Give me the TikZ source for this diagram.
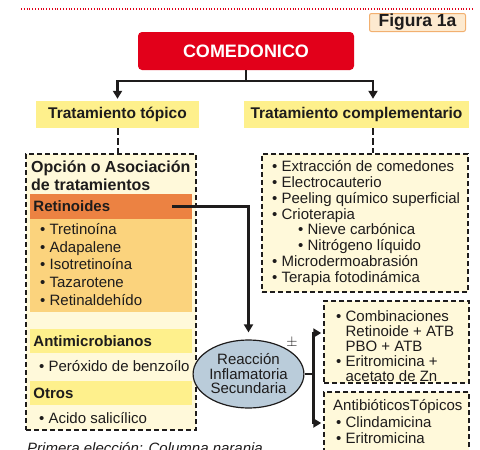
\documentclass[tikz,border=0pt]{standalone}
\usepackage{fontspec}
\setmainfont{Liberation Sans}
\usetikzlibrary{arrows.meta,positioning,shapes.geometric}

\definecolor{titleRed}{RGB}{226,0,26}
\definecolor{headYellow}{RGB}{254,240,140}
\definecolor{creamFill}{RGB}{255,249,218}
\definecolor{retiOrange}{RGB}{236,130,66}
\definecolor{listOrange}{RGB}{251,211,125}
\definecolor{ellipseBlue}{RGB}{186,204,218}
\definecolor{figFill}{RGB}{253,234,208}
\definecolor{figDraw}{RGB}{242,176,112}
\definecolor{inkGray}{RGB}{30,28,28}

\newcommand{\fs}[2]{\fontsize{#1}{#2}\selectfont}

\begin{document}
\begin{tikzpicture}[
  x=1pt, y=-1pt,
  arrow/.style={-{Triangle[width=9pt,length=8pt]}, line width=2.2pt, draw=inkGray},
  dashline/.style={draw=inkGray, line width=2pt, dash pattern=on 7pt off 3pt},
  dashbox/.style={draw=inkGray, line width=1.5pt, dash pattern=on 5pt off 3pt, fill=creamFill, inner sep=0},
  header/.style={fill=headYellow, font=\bfseries\fs{15.5}{17}, text=inkGray, inner sep=0},
  band/.style={minimum width=162pt, text width=155pt, align=left, inner xsep=3.5pt, inner ysep=0, font=\bfseries\fs{15}{17}, text=inkGray},
  listtext/.style={anchor=base west, inner sep=0, align=left, text=inkGray}
]
\useasboundingbox (0,0) rectangle (480,450);

% top rule and figure tag
\draw[titleRed, line width=1.3pt, dash pattern=on 0.8pt off 2pt] (21,9) -- (473,9);
\node[fill=figFill, draw=figDraw, line width=1pt, rounded corners=2pt, minimum width=96pt, minimum height=18pt, inner sep=0, font=\bfseries\fs{17.5}{18}, text=inkGray] (figura) at (417.5,22.5) {Figura 1a};

% main title and treatments
\node[fill=titleRed, rounded corners=4pt, minimum width=216pt, minimum height=38pt, inner sep=0, font=\bfseries\fs{18}{20}, text=white] (comedonico) at (246,51) {COMEDONICO};
\node[header, minimum width=163pt, minimum height=27pt] (topico) at (117.5,114.5) {Tratamiento tópico};
\node[header, minimum width=225pt, minimum height=27pt] (complementario) at (356.5,114.5) {Tratamiento complementario};

% left column (multi-line texts sit on their last baseline)
\node[dashbox, minimum width=170pt, minimum height=276pt] (opcionBox) at (111,292) {};
\node[listtext, font=\bfseries\fs{16}{18}] (opcionTitle) at (31,190) {Opción o Asociación\\de tratamientos};
\node[band, fill=retiOrange, minimum height=25pt] (retinoides) at (111,206.5) {Retinoides};
\node[band, fill=listOrange, minimum height=93pt] (retiBand) at (111,265.5) {};
\node[listtext, font=\fs{15}{17.7}] (retiList) at (40,305.3) {• Tretinoína\\• Adapalene\\• Isotretinoína\\• Tazarotene\\• Retinaldehído};
\node[band, fill=headYellow, minimum height=24pt] (antimicro) at (111,341) {Antimicrobianos};
\node[listtext, font=\fs{15}{17}] (peroxido) at (39,371.5) {• Peróxido de benzoílo};
\node[band, fill=headYellow, minimum height=24pt] (otros) at (111,393) {Otros};
\node[listtext, font=\fs{15}{17}] (acido) at (39,423.5) {• Acido salicílico};
\node[listtext, font=\itshape\fs{15}{17}] (nota) at (27,453) {Primera elección: Columna naranja};

% right column
\node[dashbox, minimum width=206pt, minimum height=138pt] (complBox) at (365,223) {};
\node[listtext, font=\fs{15}{15.86}] (complList) at (272,282.5) {• Extracción de comedones\\• Electrocauterio\\• Peeling químico superficial\\• Crioterapia\\\hspace*{26pt}• Nieve carbónica\\\hspace*{26pt}• Nitrógeno líquido\\• Microdermoabrasión\\• Terapia fotodinámica};

% secondary reaction
\node[ellipse, draw=inkGray, line width=1.2pt, fill=ellipseBlue, minimum width=95pt, minimum height=68pt, inner sep=0, align=center, font=\fs{15}{14.5}, text=inkGray] (reaccion) at (248.5,374) {Reacción\\Inflamatoria\\Secundaria};
\node[inner sep=0, font=\fs{15}{15}, text=inkGray] (pm) at (292,343) {$\pm$};
\node[dashbox, minimum width=145pt, minimum height=82pt] (combiBox) at (396.5,342) {};
\node[listtext, font=\fs{15}{15}] (combiText) at (336,381.5) {• Combinaciones\\\hphantom{• }Retinoide + ATB\\\hphantom{• }PBO + ATB\\• Eritromicina +\\\hphantom{• }acetato de Zn};
\node[dashbox, minimum width=145pt, minimum height=78pt] (antibBox) at (396.5,431) {};
\node[listtext, font=\fs{15}{16.5}] (antibText) at (333,443.5) {AntibióticosTópicos\\\hspace*{3pt}• Clindamicina\\\hspace*{3pt}• Eritromicina};

% connectors
\draw[arrow, shorten >=2pt] (comedonico.south) -- ++(0,11) -| (topico.north);
\draw[arrow, shorten >=2pt] (comedonico.south) -- ++(0,11) -| ([xshift=16.5pt]complementario.north);
\draw[dashline] (topico.south) -- (topico.south |- opcionBox.north);
\draw[dashline] ([xshift=16.5pt]complementario.south) -- ([xshift=16.5pt]complementario.south |- complBox.north);
\draw[arrow] ([xshift=-20pt]retinoides.east) -| ([yshift=7pt]reaccion.north);
\draw[arrow] (reaccion.east) -- ++(9,0) coordinate (split) |- ([xshift=-2pt,yshift=9pt]combiBox.west);
\draw[arrow] (split) |- ([xshift=-2pt,yshift=8pt]antibBox.west);

\end{tikzpicture}
\end{document}
